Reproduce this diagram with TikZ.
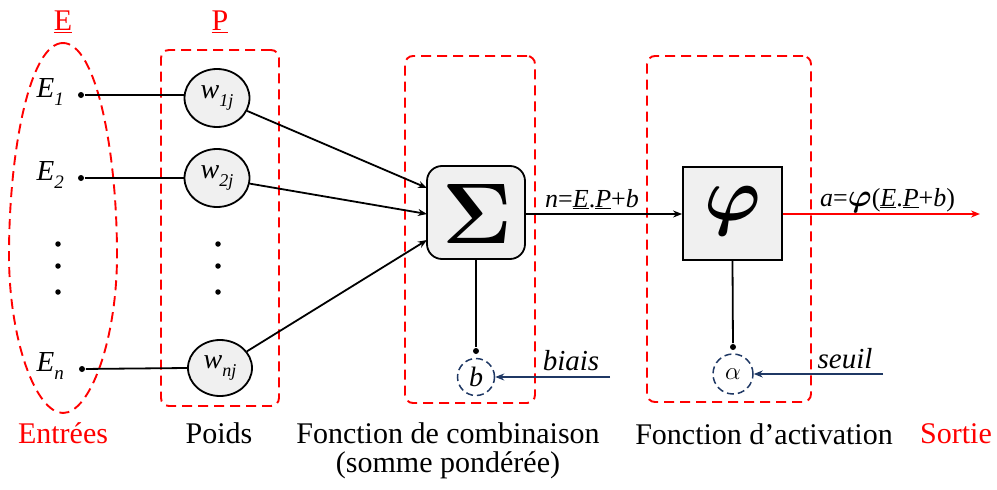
\documentclass[tikz,border=0pt]{standalone}
\usepackage{fix-cm}
\usepackage{bm}
\usepackage{fontspec}
\setmainfont{Liberation Serif}
\usetikzlibrary{arrows.meta,shapes.geometric}
\definecolor{navy}{HTML}{1F3864}
\definecolor{boxfill}{HTML}{F0F0F0}
\newcommand{\fs}[1]{\fontsize{#1}{#1}\selectfont}
\newcommand{\sbi}[2][19]{\raisebox{-0.3em}{\fontsize{#1}{#1}\selectfont\itshape #2}}
\begin{document}
\begin{tikzpicture}[x=1pt,y=-1pt,line width=1.8pt,
  grp/.style={draw=red,line width=1.9pt,dash pattern=on 10pt off 6pt,rounded corners=8pt,inner sep=0pt},
  wnode/.style={ellipse,draw,fill=boxfill,inner sep=0pt,font=\fs{28}\itshape},
  dotn/.style={circle,fill,inner sep=0pt,minimum size=6pt},
  lab/.style={font=\fs{30}},
  elab/.style={font=\fs{29}\itshape,anchor=east},
  arr/.style={-{Stealth[length=9pt,width=7pt]}},
  narr/.style={draw=navy,-{Stealth[length=9pt,width=7pt]}},
  dcirc/.style={circle,draw=navy,line width=1.5pt,dash pattern=on 7pt off 4pt,inner sep=0pt}]
\useasboundingbox (0,0) rectangle (997,490);
% groups
\draw[red,line width=1.9pt,dash pattern=on 10pt off 6pt]
  (63,43) .. controls (30,43) and (9,150) .. (9,255)
  .. controls (9,340) and (36,413) .. (63,413)
  .. controls (90,413) and (117,340) .. (117,255)
  .. controls (117,150) and (96,43) .. (63,43) -- cycle;
\node[grp,minimum width=118pt,minimum height=356pt] (Pg) at (220,228) {};
\node[grp,minimum width=130pt,minimum height=347pt] (Cg) at (470,229.5) {};
\node[grp,minimum width=164pt,minimum height=346pt] (Ag) at (729,229) {};
\node[font=\fs{30},text=red] (Et) at (63,22) {\underline{E}};
\node[font=\fs{30},text=red] (Pt) at (220,22) {\underline{P}};
% inputs
\node[dotn] (d1) at (81,95) {};
\node[dotn] (d2) at (81,178) {};
\node[dotn] (dn) at (82,369) {};
\node[elab] (E1) at (68,92) {E\sbi{1}};
\node[elab] (E2) at (68,175) {E\sbi{2}};
\node[elab] (En) at (68,366) {E\sbi{n}};
\node[dotn,minimum size=5.5pt] (v1) at (58,244) {};
\node[dotn,minimum size=5.5pt] (v2) at (58,266) {};
\node[dotn,minimum size=5.5pt] (v3) at (58,292) {};
% weights
\node[wnode,minimum width=65pt,minimum height=58pt] (w1) at (217,98) {w\sbi[18]{1j}};
\node[wnode,minimum width=65pt,minimum height=58pt] (w2) at (217,178) {w\sbi[18]{2j}};
\node[wnode,minimum width=64pt,minimum height=56pt] (wn) at (220,368) {w\sbi[18]{nj}};
\node[dotn,minimum size=5.5pt] (u1) at (218,244) {};
\node[dotn,minimum size=5.5pt] (u2) at (218,266) {};
\node[dotn,minimum size=5.5pt] (u3) at (218,292) {};
\draw (d1) -- (d1 -| w1.west);
\draw (d2) -- (w2.west);
\draw (dn) -- (wn.west);
% sum
\node[draw,fill=boxfill,rounded corners=15pt,minimum width=98pt,minimum height=93pt,inner sep=0pt] (S) at (476,212.5) {};
\node[font=\fs{86}] (Sig) at (477,214) {$\bm{\Sigma}$};
\coordinate (s1) at (427,188);
\coordinate (s2) at (427,214);
\coordinate (s3) at (427,240);
\draw[arr] (w1) -- (s1);
\draw[arr] (w2) -- (s2);
\draw[arr] (wn) -- (s3);
% activation
\node[draw,fill=boxfill,minimum width=99pt,minimum height=93pt,inner sep=0pt] (F) at (732.5,213.5) {};
\node[font=\fs{76}] (phi) at (733,211) {$\bm{\varphi}$};
\draw[arr] (S.east |- 0,214) coordinate (se) -- (F.west |- se) coordinate (fw);
\node[font=\fs{26}\itshape,anchor=base west] (nl) at (541,207) {n\upshape=\underline{\itshape E}.\underline{\itshape P}+\itshape b};
\coordinate (out) at (980,214);
\draw[red,arr] (F.east |- out) -- (out);
\node[font=\fs{26}\itshape,anchor=base west] (al) at (816,206) {a\upshape={\fs{32}$\bm{\varphi}$}\upshape(\underline{\itshape E}.\underline{\itshape P}+\itshape b\upshape)};
% bias
\node[dotn] (bd) at (476,351) {};
\node[dcirc,minimum size=37pt,font=\fs{28}\itshape] (b) at (476,377) {b};
\draw (S.south) -- (bd);
\coordinate (bs) at (610,377);
\draw[narr] (bs) -- (b.east);
\node[font=\fs{29}\itshape] (bl) at (571,361) {biais};
% threshold
\node[dotn] (ad) at (733,347) {};
\node[dcirc,minimum size=40pt,font=\fs{25}] (al2) at (733,374) {$\alpha$};
\draw (F.south) -- (ad);
\coordinate (ts) at (883,374);
\draw[narr] (ts) -- (al2.east);
\node[font=\fs{29}\itshape] (sl) at (845,359) {seuil};
% bottom labels
\node[lab,text=red] (l1) at (63,433) {Entrées};
\node[lab] (l2) at (219,433) {Poids};
\node[lab] (l3) at (448,433) {Fonction de combinaison};
\node[lab] (l3b) at (448,465) {(somme pondérée)};
\node[lab] (l4) at (764,434) {Fonction d’activation};
\node[lab,text=red] (l5) at (956,434) {Sortie};
\end{tikzpicture}
\end{document}
